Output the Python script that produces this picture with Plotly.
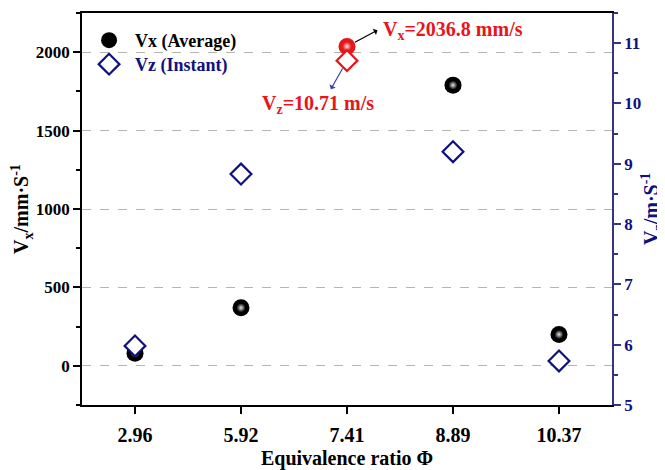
import plotly.graph_objects as go

# ---- data ----
categories = ["2.96", "5.92", "7.41", "8.89", "10.37"]
vx_average = [80, 370, 2036.8, 1790, 200]      # mm/s (left axis)
vz_instant = [5.98, 8.83, 10.71, 9.20, 5.73]   # m/s  (right axis)
highlight_index = 2
vx_label = "V<sub>x</sub>=2036.8 mm/s"
vz_label = "V<sub>z</sub>=10.71 m/s"
left_title = "V<sub>x</sub>/mm·S<sup>-1</sup>"
right_title = "V<sub>z</sub>/m·S<sup>-1</sup>"

NAVY = "#10107f"
AXIS_NAVY = "#34348c"
RED = "#e8151b"
FONT = "Liberation Serif"

vx_colors = [RED if i == highlight_index else "black" for i in range(len(categories))]
vz_colors = [RED if i == highlight_index else NAVY for i in range(len(categories))]

fig = go.Figure()

# Vx spheres: base + highlight
fig.add_trace(go.Scatter(
    x=categories, y=vx_average, mode="markers",
    name="<b>Vx (Average)</b>", legend="legend",
    marker=dict(symbol="circle", size=17, color=vx_colors, line=dict(width=0)),
))
fig.add_trace(go.Scatter(
    x=categories, y=vx_average, mode="markers", showlegend=False, hoverinfo="skip",
    marker=dict(symbol="circle", size=9, color=vx_colors, line=dict(width=0),
                gradient=dict(type="radial", color="#e8e8e8")),
))

# Vz diamonds on right axis
fig.add_trace(go.Scatter(
    x=categories, y=vz_instant, mode="markers", yaxis="y2",
    name='<span style="color:#10107f"><b>Vz (Instant)</b></span>', legend="legend2",
    marker=dict(symbol="diamond", size=16, color="white",
                line=dict(color=vz_colors, width=2.2)),
))

hx = highlight_index  # category index for annotation placement
annotations = [
    dict(x=hx, y=vx_average[hx], xref="x", yref="y",
         text="<b>" + vx_label + "</b>", showarrow=False, xanchor="left", yanchor="middle",
         xshift=34, yshift=16, font=dict(family=FONT, size=20, color=RED)),
    dict(x=hx, y=vz_instant[hx], xref="x", yref="y2",
         text="<b>" + vz_label + "</b>", showarrow=False, xanchor="center", yanchor="middle",
         xshift=-29, yshift=-44, font=dict(family=FONT, size=20, color=RED)),
    dict(x=hx, y=vx_average[hx], xref="x", yref="y",
         text="", showarrow=True, ax=32, ay=-17, arrowside="start", arrowhead=2,
         arrowsize=1, arrowwidth=1.2, arrowcolor="black", standoff=9),
    dict(x=hx, y=vz_instant[hx], xref="x", yref="y2",
         text="", showarrow=True, ax=-17, ay=30, arrowside="start", arrowhead=2,
         arrowsize=1, arrowwidth=1.2, arrowcolor="#3344aa", standoff=9),
    # right axis title
    dict(x=1, y=0.5, xref="paper", yref="paper", text="<b>" + right_title + "</b>",
         textangle=-90, showarrow=False, xanchor="center", yanchor="middle", xshift=40,
         font=dict(family=FONT, size=20, color=NAVY)),
]

legend_common = dict(xanchor="left", yanchor="top", bgcolor="rgba(0,0,0,0)",
                     font=dict(family=FONT, size=18, color="black"), itemwidth=42)

# page body has an 8px default margin, so the figure is sized 657x462
fig.update_layout(
    width=657, height=462,
    margin=dict(l=74, r=53, t=5, b=65, autoexpand=False),
    paper_bgcolor="white", plot_bgcolor="white",
    font=dict(family=FONT, color="black"),
    showlegend=True,
    legend=dict(x=0.002, y=0.977, **legend_common),
    legend2=dict(x=0.002, y=0.916, **legend_common),
    annotations=annotations,
    xaxis=dict(
        type="category", categoryorder="array", categoryarray=categories,
        range=[-0.5, 4.5],
        showline=True, linecolor="black", linewidth=1.5, mirror=True,
        ticks="outside", ticklen=7, tickwidth=1.5, tickcolor="black",
        ticklabelstandoff=4,
        tickfont=dict(family=FONT, size=20, color="black", weight="bold"),
        showgrid=False, zeroline=False,
        title=dict(text="<b>Equivalence ratio Φ</b>", font=dict(family=FONT, size=20, color="black"),
                   standoff=8),
    ),
    yaxis=dict(
        range=[-250, 2250], tick0=0, dtick=500,
        showline=True, linecolor="black", linewidth=1.5,
        ticks="outside", ticklen=7, tickwidth=1.5, tickcolor="black",
        minor=dict(ticks="outside", ticklen=4, tickcolor="black", tick0=250, dtick=500, showgrid=False),
        tickfont=dict(family=FONT, size=17, color="black", weight="bold"),
        showgrid=True, gridcolor="#b4b4b4", griddash="dash", gridwidth=1,
        zeroline=False,
        title=dict(text="<b>" + left_title + "</b>",
                   font=dict(family=FONT, size=20, color="black"), standoff=6),
    ),
    yaxis2=dict(
        overlaying="y", side="right", range=[5, 11.5], tick0=5, dtick=1,
        showline=True, linecolor=AXIS_NAVY, linewidth=1.5,
        ticks="outside", ticklen=7, tickwidth=1.5, tickcolor=AXIS_NAVY,
        minor=dict(ticks="outside", ticklen=4, tickcolor=AXIS_NAVY, tick0=5.5, dtick=1, showgrid=False),
        tickfont=dict(family=FONT, size=17, color=NAVY, weight="bold"),
        showgrid=False, zeroline=False,
    ),
)

fig.write_html("out.html")
